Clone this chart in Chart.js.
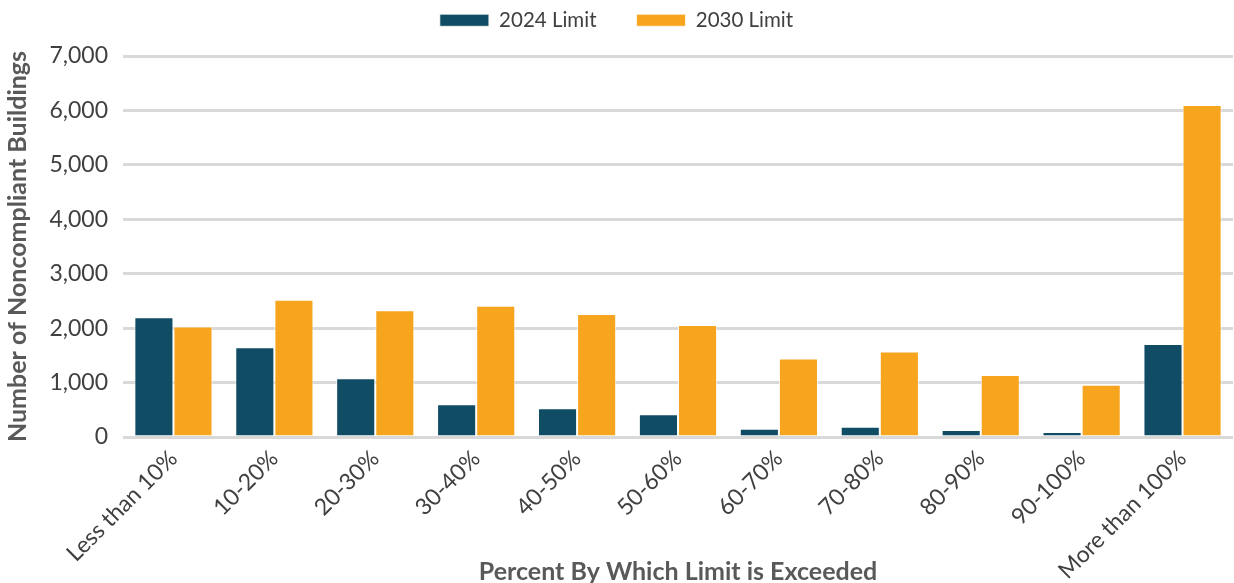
<!DOCTYPE html>
<html>
<head>
<meta charset="utf-8">
<script src="https://cdn.jsdelivr.net/npm/chart.js@4"></script>
<style>
  html, body { margin: 0; padding: 0; background: #fff; }
  #wrap { width: 1234px; height: 583px; }
</style>
</head>
<body>
<div id="wrap"><canvas id="myChart"></canvas></div>
<script>
document.addEventListener("DOMContentLoaded", function () {

const categories = ["Less than 10%", "10-20%", "20-30%", "30-40%", "40-50%", "50-60%",
    "60-70%", "70-80%", "80-90%", "90-100%", "More than 100%"];
const limit2024 = [2200, 1650, 1080, 600, 530, 420, 150, 190, 130, 90, 1710];
const limit2030 = [2030, 2520, 2330, 2410, 2260, 2060, 1440, 1570, 1140, 960, 6100];
const yTicks = [0, 1000, 2000, 3000, 4000, 5000, 6000, 7000];

Chart.defaults.font.family = "Lato, 'Noto Sans', sans-serif";
Chart.defaults.color = '#404040';

// extra room under the legend before the plot starts
const legendGap = {
    id: 'legendGap',
    beforeInit(chart) {
        const fit = chart.legend.fit;
        chart.legend.fit = function () {
            fit.bind(chart.legend)();
            this.height += 15.5;
        };
    }
};

const config = {
    type: 'bar',
    data: {
        labels: categories,
        datasets: [{
            label: '2024 Limit',
            data: limit2024,
            backgroundColor: '#114c65',
            borderColor: 'rgba(255,255,255,0.7)',
            borderWidth: 1
        }, {
            label: '2030 Limit',
            data: limit2030,
            backgroundColor: '#f7a51f',
            borderColor: 'rgba(255,255,255,0.7)',
            borderWidth: 1
        }]
    },
    options: {
        responsive: true,
        maintainAspectRatio: false,
        animation: false,
        layout: { padding: { top: -30, right: 1, bottom: 0, left: 0 } },
        datasets: {
            bar: { barPercentage: 1, categoryPercentage: 0.775 }
        },
        plugins: {
            legend: {
                position: 'top',
                labels: {
                    boxWidth: 49,
                    boxHeight: 12,
                    padding: 40,
                    color: '#404040',
                    font: { size: 20.5 }
                }
            },
            tooltip: { enabled: false }
        },
        scales: {
            x: {
                grid: { display: false, drawTicks: false },
                border: { display: false },
                ticks: {
                    minRotation: 45,
                    maxRotation: 45,
                    padding: 8,
                    color: '#404040',
                    font: { size: 23 }
                },
                title: {
                    display: true,
                    text: 'Percent By Which Limit is Exceeded',
                    color: '#595959',
                    padding: { top: 0, bottom: -4 },
                    font: { size: 25, weight: 'bold' }
                },
                afterFit(scale) { scale.height = 146; }
            },
            y: {
                min: 0,
                max: 7000,
                afterBuildTicks(scale) {
                    scale.ticks = yTicks.map(v => ({ value: v }));
                },
                grid: { color: '#d9d9d9', lineWidth: 3, drawTicks: false },
                border: { display: false },
                ticks: {
                    padding: 15,
                    color: '#404040',
                    font: { size: 23 },
                    callback: v => v.toLocaleString('en-US')
                },
                title: {
                    display: true,
                    text: 'Number of Noncompliant Buildings',
                    color: '#595959',
                    padding: { top: 3, bottom: 0 },
                    font: { size: 25, weight: 'bold' }
                },
                afterFit(scale) { scale.width = 123; }
            }
        }
    },
    plugins: [legendGap]
};

var myChart = new Chart(document.getElementById('myChart'), config);

});
</script>
</body>
</html>
